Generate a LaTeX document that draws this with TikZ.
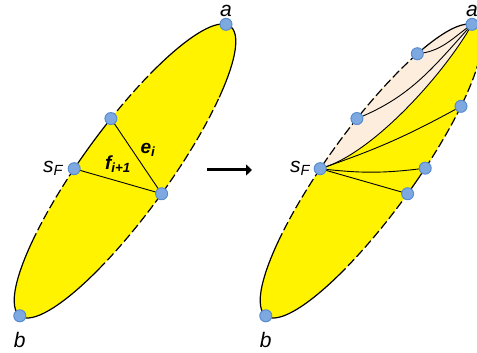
\documentclass[tikz,border=0pt]{standalone}
\usepackage{fontspec}
\setmainfont{Liberation Sans}
\usepackage{xcolor}
\usetikzlibrary{arrows.meta,positioning}

\definecolor{faceyellow}{RGB}{255,243,0}
\definecolor{facepeach}{RGB}{253,237,221}
\definecolor{vtxfill}{RGB}{125,168,224}
\definecolor{vtxline}{RGB}{88,140,208}

\begin{document}
\begin{tikzpicture}[
        x=1pt,y=1pt,
        ell/.style={x radius=179pt,y radius=43pt},
        rim/.style={line width=1.2pt},
        rimdash/.style={line width=1.2pt,dash pattern=on 9pt off 3.5pt},
        edge/.style={line width=0.9pt},
        vtx/.style={circle,fill=vtxfill,draw=vtxline,line width=1pt,inner sep=0pt,minimum size=12pt},
        lbl/.style={font=\fontsize{21}{25}\selectfont\itshape,inner sep=1pt},
        flbl/.style={font=\fontsize{19}{23}\selectfont\bfseries\itshape,inner sep=1pt},
        bigarrow/.style={-{Triangle[length=6pt,width=11pt]},line width=3pt}
    ]
    \useasboundingbox (0,0) rectangle (477,353);

    % before the flip
    \begin{scope}[shift={(125,182)},rotate=54]
        \fill[faceyellow] (0,0) ellipse[ell];
        \draw[rim] (-50:179pt and 43pt) arc[ell,start angle=-50,end angle=55];
        \draw[rimdash] (55:179pt and 43pt) arc[ell,start angle=55,end angle=79];
        \draw[rim] (79:179pt and 43pt) arc[ell,start angle=79,end angle=99];
        \draw[rimdash] (99:179pt and 43pt) arc[ell,start angle=99,end angle=125];
        \draw[rim] (125:179pt and 43pt) arc[ell,start angle=125,end angle=238];
        \draw[rimdash] (238:179pt and 43pt) arc[ell,start angle=238,end angle=310];

        \coordinate (La) at (6:179pt and 43pt);
        \coordinate (Lt) at (79:179pt and 43pt);
        \coordinate (Ls) at (99:179pt and 43pt);
        \coordinate (Lb) at (180:179pt and 43pt);
        \coordinate (Lr) at (271:179pt and 43pt);
    \end{scope}

    \draw[edge] (Lt) -- (Lr);
    \draw[edge] (Ls) -- (Lr);

    \node[vtx] (LaV) at (La) {};
    \node[vtx] (LtV) at (Lt) {};
    \node[vtx] (LsV) at (Ls) {};
    \node[vtx] (LbV) at (Lb) {};
    \node[vtx] (LrV) at (Lr) {};

    \node[lbl, above=6pt of La] (LaL) {a};
    \node[lbl, below=15pt of Lb] (LbL) {b};
    \node[lbl, left=10pt of Ls] (LsL) {s\textsubscript{F}};
    \node[flbl] (fL) at (118,189) {f\textsubscript{i+1}};
    \node[flbl] (eL) at (148,203) {e\textsubscript{i}};

    % arrow
    \coordinate (arrS) at (207,183);
    \coordinate (arrE) at (252,183);
    \draw[bigarrow] (arrS) -- (arrE);

    % after the flip
    \begin{scope}[shift={(371,182)},rotate=54]
        \fill[faceyellow] (0,0) ellipse[ell];
        \fill[facepeach] (99:179pt and 43pt) arc[ell,start angle=99,end angle=6]
            .. controls (125,-2) and (15,8) .. cycle;
        \draw[edge] (99:179pt and 43pt) .. controls (15,8) and (125,-2) .. (6:179pt and 43pt);

        \draw[rim] (-20:179pt and 43pt) arc[ell,start angle=-20,end angle=47];
        \draw[rimdash] (47:179pt and 43pt) arc[ell,start angle=47,end angle=99];
        \draw[rimdash] (99:179pt and 43pt) arc[ell,start angle=99,end angle=125];
        \draw[rim] (125:179pt and 43pt) arc[ell,start angle=125,end angle=235];
        \draw[rimdash] (235:179pt and 43pt) arc[ell,start angle=235,end angle=271];
        \draw[rim] (271:179pt and 43pt) arc[ell,start angle=271,end angle=281];
        \draw[rimdash] (281:179pt and 43pt) arc[ell,start angle=281,end angle=340];

        \coordinate (Ra) at (6:179pt and 43pt);
        \coordinate (Rq) at (47:179pt and 43pt);
        \coordinate (Rt) at (79:179pt and 43pt);
        \coordinate (Rs) at (99:179pt and 43pt);
        \coordinate (Rb) at (180:179pt and 43pt);
        \coordinate (Rr) at (271:179pt and 43pt);
        \coordinate (Rm) at (281:179pt and 43pt);
        \coordinate (Rn) at (306:179pt and 43pt);
    \end{scope}

    \draw[edge] (Rq) to[out=5,in=215] (Ra);
    \draw[edge] (Rt) to[out=22,in=228] (Ra);
    \draw[edge] (Rs) to[bend right=5] (Rn);
    \draw[edge] (Rs) to[bend right=7] (Rm);
    \draw[edge] (Rs) -- (Rr);

    \node[vtx] (RaV) at (Ra) {};
    \node[vtx] (RqV) at (Rq) {};
    \node[vtx] (RtV) at (Rt) {};
    \node[vtx] (RsV) at (Rs) {};
    \node[vtx] (RbV) at (Rb) {};
    \node[vtx] (RrV) at (Rr) {};
    \node[vtx] (RmV) at (Rm) {};
    \node[vtx] (RnV) at (Rn) {};

    \node[lbl, above=6pt of Ra] (RaL) {a};
    \node[lbl, below=15pt of Rb] (RbL) {b};
    \node[lbl, left=9pt of Rs] (RsL) {s\textsubscript{F}};
\end{tikzpicture}
\end{document}
